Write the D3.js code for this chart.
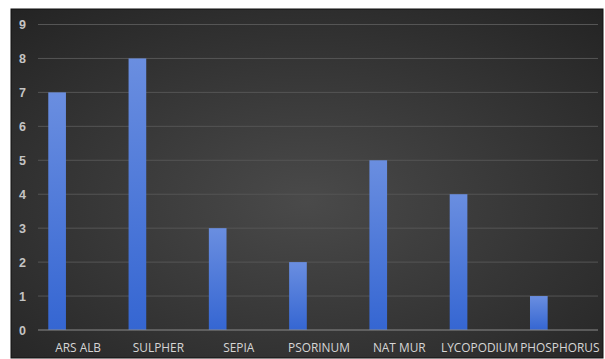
<!DOCTYPE html>
<html><head><meta charset="utf-8">
<script src="https://cdn.jsdelivr.net/npm/d3@7"></script>
<style>body{margin:0;background:#fff;}svg{display:block;}</style>
</head><body>
<script>
const categories = ["ARS ALB","SULPHER","SEPIA","PSORINUM","NAT MUR","LYCOPODIUM","PHOSPHORUS"];
const values = [7,8,3,2,5,4,1];
const yTicks = [0,1,2,3,4,5,6,7,8,9];

const W = 605, H = 359;
const svg = d3.select("body").append("svg").attr("width", W).attr("height", H);
const defs = svg.append("defs");
const bg = defs.append("radialGradient").attr("id","bg").attr("cx","50%").attr("cy","55%").attr("r","75%");
bg.append("stop").attr("offset","0%").attr("stop-color","#4a4a4a");
bg.append("stop").attr("offset","100%").attr("stop-color","#232323");
const bar = defs.append("linearGradient").attr("id","bar").attr("x1",0).attr("y1",0).attr("x2",0).attr("y2",1);
bar.append("stop").attr("offset","0%").attr("stop-color","#6a8ee0");
bar.append("stop").attr("offset","100%").attr("stop-color","#3566d2");

svg.append("rect").attr("x",11).attr("y",9).attr("width",592).attr("height",349)
  .attr("fill","url(#bg)").attr("stroke","#111").attr("stroke-width",1);

const x = d3.scaleBand().domain(categories).range([38, 600]).padding(0);
const y = d3.scaleLinear().domain([0, 9]).range([330, 24.5]);

svg.append("g").selectAll("line").data(yTicks.filter(d=>d>0)).join("line")
  .attr("x1",38).attr("x2",598).attr("y1",d=>y(d)).attr("y2",d=>y(d))
  .attr("stroke","#555").attr("stroke-width",1);

const bw = x.bandwidth()*0.22, off = x.bandwidth()*0.128;
svg.append("g").selectAll("rect").data(values).join("rect")
  .attr("x",(d,i)=>x(categories[i])+off).attr("width",bw)
  .attr("y",d=>y(d)).attr("height",d=>y(0)-y(d))
  .attr("fill","url(#bar)");

svg.append("line").attr("x1",38).attr("x2",598).attr("y1",y(0)).attr("y2",y(0))
  .attr("stroke","#8a8a8a").attr("stroke-width",1.2);

svg.append("g").selectAll("text").data(yTicks).join("text")
  .attr("x",22.5).attr("y",d=>y(d)+4.5).attr("text-anchor","middle")
  .attr("font-family","Liberation Sans, Arial, sans-serif").attr("font-size",12.5).attr("font-weight","bold")
  .attr("fill","#c4c4c4").text(d=>d);

const sx = 0.88;
svg.append("g").attr("transform",`scale(${sx},1)`).selectAll("text").data(categories).join("text")
  .attr("x",d=>(x(d)+x.bandwidth()/2)/sx).attr("y",352).attr("text-anchor","middle")
  .attr("font-family","Open Sans, sans-serif").attr("font-size",13.5)
  .attr("fill","#d6d6d6").text(d=>d);
</script>
</body></html>
